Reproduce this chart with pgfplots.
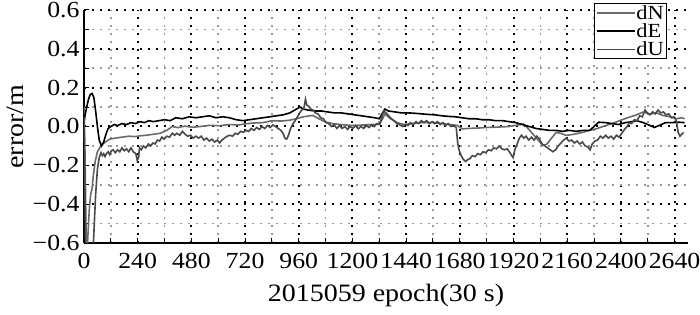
\documentclass[border=0pt]{standalone}
\usepackage{fontspec}
\setmainfont{Liberation Serif}[FakeStretch=1.12]
\usepackage{pgfplots}
\pgfplotsset{compat=1.18}
\definecolor{cN}{HTML}{6A6A6A}
\definecolor{cU}{HTML}{4A4A4A}
\begin{document}
\begin{tikzpicture}
\begin{axis}[
  scale only axis, width=604pt, height=233pt,
  xmin=0, xmax=2700, ymin=-0.6, ymax=0.6,
  axis x line*=bottom, axis y line*=left,
  axis line style={black, line width=1.3pt, -},
  xtick={0,240,480,720,960,1200,1440,1680,1920,2160,2400,2640},
  xticklabels={0,240,480,720,960,1200,1440,1680,1920,2160,2400,2640},
  minor x tick num=1,
  ytick={-0.6,-0.4,-0.2,0,0.2,0.4,0.6},
  yticklabels={−0.6,−0.4,−0.2,0.0,0.2,0.4,0.6},
  minor y tick num=1,
  tick align=inside, major tick length=5pt, minor tick length=5pt,
  tick style={black, line width=1pt},
  grid=both,
  major grid style={black, line width=2pt, dash pattern=on 2pt off 6pt},
  minor grid style={black!40, line width=1.6pt, dash pattern=on 1.6pt off 6.4pt},
  ticklabel style={font=\fontsize{23}{23}\selectfont},
  xticklabel style={yshift=-7pt},
  yticklabel style={xshift=-1pt},
  xlabel={2015059 epoch(30 s)},
  ylabel={error/m},
  xlabel style={yshift=-8pt},
  ylabel style={yshift=2pt},
  label style={font=\fontsize{25}{25}\selectfont},
  legend style={at={(rel axis cs:0.965,1.03)}, anchor=north east, draw=black,
    line width=1.3pt, fill=white, font=\fontsize{20}{20}\selectfont,
    inner xsep=2pt, inner ysep=1pt, row sep=2pt,
    nodes={inner sep=0.5pt}, cells={anchor=west}},
  legend image code/.code={\draw[#1, line width=1.6pt] (0pt,0pt) -- (38pt,0pt);},
]
% dN
\addplot[cN, line width=1.6pt] table {
x y
0 0.10
4 -0.10
8 -0.45
12 -0.70
18 -0.55
24 -0.42
30 -0.35
36 -0.32
42 -0.25
50 -0.18
60 -0.13
75 -0.10
95 -0.08
115 -0.065
140 -0.06
170 -0.055
200 -0.05
230 -0.052
250 -0.048
280 -0.045
310 -0.04
340 -0.035
370 -0.02
395 0.0
420 -0.006
450 0.002
485 -0.004
520 0.0
560 0.006
604 0.004
650 0.01
690 0.008
723 0.014
760 0.018
800 0.02
842 0.03
880 0.028
917 0.032
950 0.04
980 0.05
1022 0.057
1050 0.04
1081 0.022
1110 0.015
1150 0.01
1200 0.005
1250 0.008
1290 0.01
1320 0.013
1335 0.04
1345 0.065
1370 0.04
1400 0.02
1430 0.01
1470 0.015
1510 0.02
1560 0.02
1600 0.015
1640 0.01
1670 0.005
1690 -0.012
1720 -0.01
1760 -0.008
1800 -0.005
1850 -0.003
1900 0.0
1940 0.008
1965 0.013
1985 -0.01
2006 -0.038
2030 -0.07
2051 -0.098
2070 -0.09
2090 -0.06
2111 -0.03
2130 -0.035
2155 -0.046
2190 -0.04
2230 -0.03
2260 -0.02
2289 -0.012
2320 0.0
2360 0.015
2394 0.03
2430 0.045
2470 0.06
2498 0.074
2530 0.065
2560 0.07
2587 0.057
2620 0.05
2647 0.04
2670 0.045
2685 0.04
};
\addlegendentry{dN}
% dE
\addplot[black, line width=1.6pt] table {
x y
0 0.02
5 0.06
12 0.10
20 0.14
28 0.165
36 0.17
44 0.15
52 0.08
60 0.0
68 -0.07
78 -0.10
88 -0.08
98 -0.04
108 -0.01
120 0.0
135 0.01
150 0.005
170 0.015
190 0.01
210 0.02
230 0.015
250 0.025
270 0.02
290 0.03
310 0.025
335 0.03
360 0.035
385 0.03
410 0.045
440 0.04
470 0.05
500 0.045
530 0.05
560 0.055
590 0.045
620 0.05
650 0.045
680 0.035
710 0.03
740 0.035
770 0.04
800 0.045
830 0.05
860 0.055
890 0.06
920 0.07
950 0.09
965 0.10
980 0.09
1000 0.085
1030 0.08
1060 0.08
1090 0.075
1120 0.07
1150 0.07
1180 0.065
1210 0.06
1240 0.055
1270 0.05
1300 0.045
1320 0.04
1335 0.07
1345 0.09
1360 0.08
1390 0.075
1420 0.07
1450 0.07
1480 0.068
1510 0.065
1540 0.062
1570 0.06
1600 0.055
1630 0.052
1660 0.05
1690 0.045
1720 0.04
1750 0.04
1780 0.035
1810 0.035
1840 0.03
1870 0.03
1900 0.025
1930 0.02
1960 0.01
1990 0.0
2020 -0.01
2050 -0.015
2080 -0.02
2110 -0.02
2140 -0.025
2170 -0.02
2200 -0.025
2230 -0.02
2260 -0.02
2280 0.0
2300 0.022
2330 0.02
2360 0.015
2390 0.01
2420 0.02
2450 0.025
2470 0.03
2500 0.02
2530 0.005
2550 -0.005
2570 0.005
2600 0.02
2630 0.02
2660 0.022
2685 0.02
};
\addlegendentry{dE}
% dU
\addplot[cU, line width=1.6pt] table {
x y
0 0.05
3 -0.2
6 -0.5
9 -0.72
20 -0.78
32 -0.78
40 -0.66
46 -0.5
52 -0.35
60 -0.22
68 -0.16
76 -0.135
82 -0.15
88 -0.14
94 -0.155
100 -0.14
108 -0.13
115 -0.145
122 -0.125
130 -0.12
140 -0.135
150 -0.12
160 -0.13
170 -0.11
180 -0.125
190 -0.115
200 -0.13
210 -0.11
220 -0.13
232 -0.14
238 -0.175
244 -0.16
248 -0.11
256 -0.12
266 -0.1
276 -0.11
288 -0.09
298 -0.1
308 -0.085
318 -0.09
328 -0.07
338 -0.075
348 -0.055
358 -0.065
370 -0.05
382 -0.055
395 -0.035
405 -0.045
415 -0.035
428 -0.045
440 -0.025
452 -0.04
464 -0.05
476 -0.045
488 -0.06
500 -0.05
512 -0.06
524 -0.05
536 -0.07
548 -0.06
560 -0.075
572 -0.065
584 -0.08
596 -0.07
606 -0.085
616 -0.07
628 -0.06
640 -0.05
652 -0.045
664 -0.05
676 -0.035
688 -0.04
700 -0.025
712 -0.03
724 -0.02
736 -0.025
748 -0.01
760 -0.02
772 -0.005
784 -0.015
796 0.0
808 -0.01
820 0.005
832 -0.005
844 0.008
856 0.0
868 -0.01
880 -0.02
890 -0.035
898 -0.06
906 -0.065
914 -0.045
922 -0.015
932 0.01
944 0.03
954 0.05
964 0.07
974 0.085
984 0.1
990 0.14
996 0.11
1004 0.105
1014 0.09
1024 0.085
1034 0.07
1046 0.065
1058 0.045
1070 0.04
1082 0.02
1094 0.015
1106 0.0
1118 0.01
1130 -0.01
1142 0.005
1154 -0.01
1166 0.0
1178 -0.015
1190 0.0
1202 -0.01
1214 0.005
1226 -0.012
1238 0.0
1250 -0.01
1262 0.005
1274 -0.005
1286 0.01
1298 0.0
1310 0.015
1322 0.01
1332 0.05
1340 0.08
1350 0.07
1362 0.055
1374 0.04
1386 0.03
1398 0.015
1410 0.01
1424 0.0
1436 0.01
1448 0.005
1460 0.02
1472 0.01
1484 0.025
1496 0.015
1508 0.03
1520 0.02
1532 0.03
1544 0.015
1556 0.025
1568 0.015
1580 0.025
1592 0.01
1604 0.02
1616 0.005
1628 0.015
1640 0.0
1652 0.005
1664 -0.005
1670 -0.08
1676 -0.12
1686 -0.15
1696 -0.17
1706 -0.18
1716 -0.17
1726 -0.165
1736 -0.15
1748 -0.155
1760 -0.14
1772 -0.145
1784 -0.13
1796 -0.135
1808 -0.12
1820 -0.125
1832 -0.11
1844 -0.115
1856 -0.1
1868 -0.115
1880 -0.12
1892 -0.115
1904 -0.135
1912 -0.15
1918 -0.16
1926 -0.12
1936 -0.09
1946 -0.06
1956 -0.045
1966 -0.06
1976 -0.05
1988 -0.07
2000 -0.055
2012 -0.07
2024 -0.05
2036 -0.065
2048 -0.09
2060 -0.1
2072 -0.11
2084 -0.12
2096 -0.13
2108 -0.12
2120 -0.1
2132 -0.085
2144 -0.07
2156 -0.06
2168 -0.075
2180 -0.07
2192 -0.085
2204 -0.075
2216 -0.09
2228 -0.08
2240 -0.1
2252 -0.105
2262 -0.12
2272 -0.09
2284 -0.075
2296 -0.07
2308 -0.05
2320 -0.06
2332 -0.045
2344 -0.06
2356 -0.05
2368 -0.065
2380 -0.045
2392 -0.055
2404 -0.035
2416 -0.015
2428 0.0
2438 0.02
2448 0.015
2460 0.035
2472 0.03
2484 0.055
2496 0.05
2508 0.085
2518 0.07
2530 0.06
2542 0.075
2554 0.065
2566 0.085
2578 0.07
2590 0.075
2602 0.06
2614 0.065
2626 0.045
2638 0.05
2648 0.03
2656 -0.03
2664 -0.05
2672 -0.04
2680 -0.03
};
\addlegendentry{dU}
\end{axis}
\pgfresetboundingbox
\path (current axis.south west) ++(-84pt,-72pt) rectangle ([shift={(12pt,10pt)}]current axis.north east);
\end{tikzpicture}
\end{document}
